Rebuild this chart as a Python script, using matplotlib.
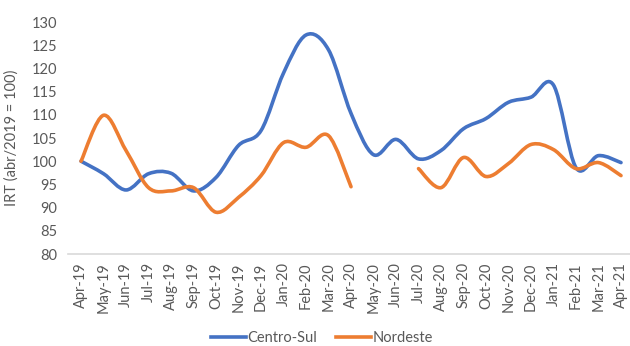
import matplotlib
matplotlib.use("Agg")
import matplotlib.pyplot as plt
from matplotlib.path import Path
from matplotlib.patches import PathPatch
from matplotlib.lines import Line2D
import numpy as np

months = ['Apr-19', 'May-19', 'Jun-19', 'Jul-19', 'Aug-19', 'Sep-19', 'Oct-19',
          'Nov-19', 'Dec-19', 'Jan-20', 'Feb-20', 'Mar-20', 'Apr-20', 'May-20',
          'Jun-20', 'Jul-20', 'Aug-20', 'Sep-20', 'Oct-20', 'Nov-20', 'Dec-20',
          'Jan-21', 'Feb-21', 'Mar-21', 'Apr-21']
centro_sul = [100, 97.3, 93.8, 97.3, 97.4, 93.6, 96.5, 103.4, 106.6, 119.0,
              127.2, 124.0, 110.3, 101.4, 104.7, 100.5, 102.3, 107.0, 109.2,
              112.7, 113.8, 116.4, 98.6, 101.2, 99.7]
nordeste = [100, 109.9, 102.3, 94.3, 93.6, 94.3, 89.0, 92.2, 96.9, 104.0,
            103.0, 105.5, 94.5, None, None, 98.4, 94.3, 100.8, 96.7, 99.5,
            103.6, 102.5, 98.4, 99.7, 96.9]

BLUE = '#4472C4'
ORANGE = '#ED7D31'
GRAY = '#595959'


def smooth_path(xs, ys):
    # Excel-style smoothed line: cubic bezier through each point
    verts = [(xs[0], ys[0])]
    codes = [Path.MOVETO]
    n = len(xs)
    for i in range(n - 1):
        p0 = (xs[max(i - 1, 0)], ys[max(i - 1, 0)])
        p1 = (xs[i], ys[i])
        p2 = (xs[i + 1], ys[i + 1])
        p3 = (xs[min(i + 2, n - 1)], ys[min(i + 2, n - 1)])
        c1 = (p1[0] + (p2[0] - p0[0]) / 6, p1[1] + (p2[1] - p0[1]) / 6)
        c2 = (p2[0] - (p3[0] - p1[0]) / 6, p2[1] - (p3[1] - p1[1]) / 6)
        verts += [c1, c2, p2]
        codes += [Path.CURVE4] * 3
    return Path(verts, codes)


def draw_series(ax, values, color):
    seg_x, seg_y = [], []
    for i, v in enumerate(values + [None]):
        if v is None:
            if len(seg_x) > 1:
                ax.add_patch(PathPatch(smooth_path(seg_x, seg_y), fill=False,
                                       edgecolor=color, lw=2.6,
                                       capstyle='round', joinstyle='round'))
            seg_x, seg_y = [], []
        else:
            seg_x.append(i)
            seg_y.append(v)


plt.rcParams['font.family'] = ['Lato', 'DejaVu Sans']

fig = plt.figure(figsize=(6.3, 3.46), dpi=100)
ax = fig.add_axes([68 / 630, 1 - 254 / 346, 1 - 68 / 630, (254 - 22) / 346])

draw_series(ax, centro_sul, BLUE)
draw_series(ax, nordeste, ORANGE)

x = np.arange(len(months))
ax.set_xlim(-0.58, 24.4)
ax.set_ylim(80, 130)
ax.set_yticks(range(80, 131, 5))
ax.set_xticks(x)
ax.set_xticklabels(months, rotation=90)
ax.tick_params(axis='both', length=0, colors=GRAY, labelsize=10.5)
ax.tick_params(axis='y', pad=8)
ax.tick_params(axis='x', pad=6)

for s in ['top', 'right', 'left']:
    ax.spines[s].set_visible(False)
ax.spines['bottom'].set_color('#D9D9D9')
ax.spines['bottom'].set_linewidth(1.2)

ax.set_ylabel('IRT (abr/2019 = 100)', color=GRAY, fontsize=10.5)
ax.yaxis.set_label_coords(-(68 - 19) / 562, 0.5)

handles = [Line2D([], [], color=BLUE, lw=2.6),
           Line2D([], [], color=ORANGE, lw=2.6)]
fig.legend(handles, ['Centro-Sul', 'Nordeste'], loc='center',
           bbox_to_anchor=(322 / 630, 1 - 338 / 346), ncol=2, frameon=False,
           fontsize=10.5, labelcolor=GRAY, handlelength=2.4, handletextpad=0.1,
           columnspacing=1.3)

fig.savefig('out.png', dpi=100)
